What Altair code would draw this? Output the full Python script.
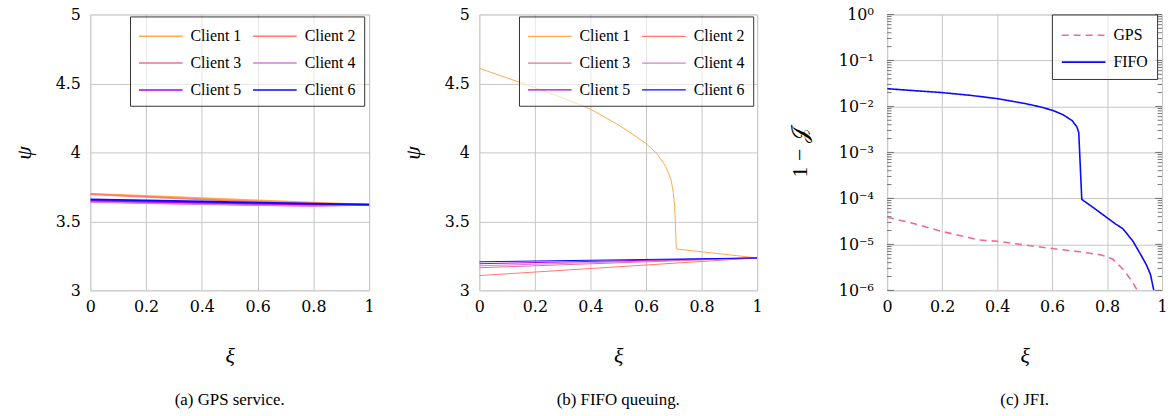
import altair as alt
import pandas as pd

# ---------------- data ----------------
CLIENTS = ["Client 1", "Client 2", "Client 3", "Client 4", "Client 5", "Client 6"]
CLIENT_COLORS = ["#FFAA4C", "#FF7A6A", "#EF6B9A", "#D77DD6", "#B000E8", "#0A0AFF"]

# (a) GPS service
XI_A = [0.0, 0.2, 0.4, 0.6, 0.8, 1.0]
GPS_C1 = [3.700, 3.684, 3.668, 3.652, 3.636, 3.622]
GPS_C2 = [3.697, 3.677, 3.659, 3.643, 3.631, 3.622]
GPS_C3 = [3.645, 3.635, 3.627, 3.619, 3.613, 3.620]
GPS_C4 = [3.640, 3.632, 3.625, 3.618, 3.615, 3.621]
GPS_C5 = [3.652, 3.643, 3.636, 3.629, 3.624, 3.622]
GPS_C6 = [3.660, 3.652, 3.644, 3.636, 3.629, 3.622]

# (b) FIFO queuing
XI_B1 = [0.0, 0.1, 0.2, 0.3, 0.4, 0.5, 0.55, 0.6, 0.64, 0.67, 0.69, 0.698, 0.703, 0.706, 0.709, 1.0]
FIFO_C1 = [4.61, 4.54, 4.47, 4.395, 4.314, 4.200, 4.135, 4.064, 3.99, 3.90, 3.805, 3.71, 3.61, 3.47, 3.30, 3.235]
XI_B = [0.0, 1.0]
FIFO_C2 = [3.107, 3.235]
FIFO_C3 = [3.164, 3.235]
FIFO_C4 = [3.178, 3.235]
FIFO_C5 = [3.193, 3.235]
FIFO_C6 = [3.207, 3.235]

# (c) JFI
SERIES_C = ["GPS", "FIFO"]
SERIES_C_COLORS = ["#EE6A98", "#0A0AFF"]
XI_GPS = [0.0, 0.1, 0.2, 0.3, 0.33, 0.4, 0.5, 0.6, 0.7, 0.78, 0.82, 0.86, 0.89, 0.91, 0.93]
JFI_GPS = [3.9e-5, 2.8e-5, 1.9e-5, 1.4e-5, 1.25e-5, 1.17e-5, 9.7e-6, 8.1e-6, 6.9e-6, 5.9e-6,
           4.8e-6, 2.8e-6, 1.6e-6, 1.0e-6, 7e-7]
XI_FIFO = [0.0, 0.1, 0.2, 0.3, 0.4, 0.5, 0.55, 0.6, 0.64, 0.673, 0.69, 0.697, 0.708, 0.75, 0.79,
           0.83, 0.857, 0.893, 0.923, 0.944, 0.958, 0.97, 0.975]
JFI_FIFO = [0.0243, 0.022, 0.020, 0.0175, 0.0148, 0.0116, 0.0100, 0.0083, 0.0066, 0.0049, 0.0036,
            0.0027, 9.5e-5, 6.3e-5, 4.2e-5, 2.8e-5, 2.2e-5, 1.2e-5, 5.9e-6, 3.5e-6, 2.2e-6, 1.0e-6, 7e-7]
Y_TICKS_C = [1e-6, 1e-5, 1e-4, 1e-3, 1e-2, 1e-1, 1.0]
MINOR_C = [m * d for d in [1e-6, 1e-5, 1e-4, 1e-3, 1e-2, 1e-1] for m in range(2, 10)]

X_TICKS = [0, 0.2, 0.4, 0.6, 0.8, 1.0]
Y_TICKS_AB = [3, 3.5, 4, 4.5, 5]

# ---------------- tables ----------------
gps_lists = [GPS_C1, GPS_C2, GPS_C3, GPS_C4, GPS_C5, GPS_C6]
df_a = pd.DataFrame([
    {"xi": x, "psi": v, "client": c}
    for c, vals in zip(CLIENTS, gps_lists) for x, v in zip(XI_A, vals)
])
rows_b = [{"xi": x, "psi": v, "client": "Client 1"} for x, v in zip(XI_B1, FIFO_C1)]
for c, vals in zip(CLIENTS[1:], [FIFO_C2, FIFO_C3, FIFO_C4, FIFO_C5, FIFO_C6]):
    rows_b += [{"xi": x, "psi": v, "client": c} for x, v in zip(XI_B, vals)]
df_b = pd.DataFrame(rows_b)
df_c = pd.DataFrame(
    [{"xi": x, "j": v, "series": "GPS"} for x, v in zip(XI_GPS, JFI_GPS)]
    + [{"xi": x, "j": v, "series": "FIFO"} for x, v in zip(XI_FIFO, JFI_FIFO)]
)
df_minor = pd.DataFrame({"v": MINOR_C})
df_major = pd.DataFrame({"v": Y_TICKS_C})

# ---------------- styling ----------------
SERIF = "Liberation Serif, Times New Roman, serif"
TICKF = "DejaVu Serif, serif"
GRID = "#c6c6c6"
W, H = 280, 278
LEG_SYMBOL = "M-1,0H3"   # 44 px stroke starting at the entry's left edge (size 484 -> unit 11 px)


def x_axis():
    return alt.Axis(values=X_TICKS, format=".1~f", title="ξ", titleFont=SERIF,
                    titleFontStyle="italic", titleFontSize=22, titleFontWeight="normal",
                    titlePadding=32, labelFont=TICKF, labelFontSize=16, labelPadding=8,
                    tickSize=0, domain=False, grid=True, gridColor=GRID, labelColor="black",
                    titleColor="black", labelFlush=False)


def y_axis_lin(title_pad):
    return alt.Axis(values=Y_TICKS_AB, format=".1~f", title="ψ", titleFont=SERIF,
                    titleFontStyle="italic", titleFontSize=22, titleFontWeight="normal",
                    titlePadding=title_pad, labelFont=TICKF, labelFontSize=16, labelPadding=10,
                    tickSize=0, domain=False, grid=True, gridColor=GRID, labelColor="black",
                    titleColor="black")


def client_legend(width):
    return alt.Legend(title=None, orient="none", legendX=40, legendY=2, columns=2,
                      direction="horizontal",
                      symbolType=LEG_SYMBOL, symbolSize=484, symbolStrokeWidth=width,
                      labelFont=SERIF, labelFontSize=16, labelColor="black", labelOffset=29,
                      strokeColor="#333333", fillColor="rgba(255,255,255,0.6)", padding=8,
                      rowPadding=7, columnPadding=8)


def caption(text):
    return alt.TitleParams(text, orient="bottom", anchor="middle", frame="group",
                           font=SERIF, fontSize=17, fontWeight="normal", color="black", offset=26)


x_enc = alt.X("xi:Q", scale=alt.Scale(domain=[0, 1], nice=False), axis=x_axis())

chart_a = alt.Chart(df_a).mark_line(strokeWidth=1.8, clip=True).encode(
    x=x_enc,
    y=alt.Y("psi:Q", scale=alt.Scale(domain=[3, 5], nice=False, zero=False), axis=y_axis_lin(20)),
    color=alt.Color("client:N", scale=alt.Scale(domain=CLIENTS, range=CLIENT_COLORS),
                    legend=client_legend(1.5)),
).properties(width=W + 1, height=H, title=caption("(a) GPS service."))

chart_b = alt.Chart(df_b).mark_line(strokeWidth=1.0, clip=True).encode(
    x=x_enc,
    y=alt.Y("psi:Q", scale=alt.Scale(domain=[3, 5], nice=False, zero=False), axis=y_axis_lin(20)),
    color=alt.Color("client:N", scale=alt.Scale(domain=CLIENTS, range=CLIENT_COLORS),
                    legend=client_legend(1.2)),
).properties(width=W, height=H, title=caption("(b) FIFO queuing."))

y_c_scale = alt.Scale(type="log", domain=[1e-6, 1], nice=False)
y_c_axis = alt.Axis(values=Y_TICKS_C, title="1 − 𝒥", titleFont=SERIF, titleFontSize=22,
                    titleFontWeight="normal", titlePadding=27, labelFont=TICKF, labelFontSize=16,
                    labelPadding=14, tickSize=0, domain=False, grid=True, gridColor=GRID,
                    labelColor="black", titleColor="black",
                    labelExpr="'10' + (datum.value < 0.5 ? '⁻' : '') + ['⁰','¹','²','³','⁴','⁵','⁶'][round(-log(datum.value)/LN10)]")

lines_c = alt.Chart(df_c).mark_line(strokeWidth=1.6, clip=True).encode(
    x=x_enc,
    y=alt.Y("j:Q", scale=y_c_scale, axis=y_c_axis),
    color=alt.Color("series:N", scale=alt.Scale(domain=SERIES_C, range=SERIES_C_COLORS),
                    legend=alt.Legend(title=None, orient="none", legendX=166, legendY=0,
                                      symbolType=LEG_SYMBOL, symbolSize=484, symbolStrokeWidth=1.6,
                                      labelFont=SERIF, labelFontSize=16, labelColor="black",
                                      labelOffset=29, strokeColor="#333333",
                                      fillColor="rgba(255,255,255,0.6)",
                                      padding=9, rowPadding=7)),
    strokeDash=alt.StrokeDash("series:N", scale=alt.Scale(domain=SERIES_C, range=[[7, 5], [1, 0]]),
                              legend=None),
)

minor_l = alt.Chart(df_minor).mark_rule(color="#555555", strokeWidth=0.8).encode(
    x=alt.datum(0.0), x2=alt.datum(0.016), y=alt.Y("v:Q", scale=y_c_scale))
minor_r = alt.Chart(df_minor).mark_rule(color="#555555", strokeWidth=0.8).encode(
    x=alt.datum(0.984), x2=alt.datum(1.0), y=alt.Y("v:Q", scale=y_c_scale))
major_l = alt.Chart(df_major).mark_rule(color="#555555", strokeWidth=0.8).encode(
    x=alt.datum(0.0), x2=alt.datum(0.025), y=alt.Y("v:Q", scale=y_c_scale))
major_r = alt.Chart(df_major).mark_rule(color="#555555", strokeWidth=0.8).encode(
    x=alt.datum(0.975), x2=alt.datum(1.0), y=alt.Y("v:Q", scale=y_c_scale))

chart_c = alt.layer(minor_l, minor_r, major_l, major_r, lines_c).properties(
    width=W - 3, height=H, title=caption("(c) JFI."))

left_pair = alt.hconcat(chart_a, chart_b, spacing=26).resolve_scale(color="independent")
chart = alt.hconcat(left_pair, chart_c, spacing=25).resolve_scale(
    color="independent", strokeDash="independent"
).properties(
    padding={"left": 12, "top": 4, "right": 0, "bottom": 0}
).configure_view(stroke="#333333", strokeWidth=1.2).configure(background="white")

chart.save("out.html", embed_options={"renderer": "svg", "actions": False})
